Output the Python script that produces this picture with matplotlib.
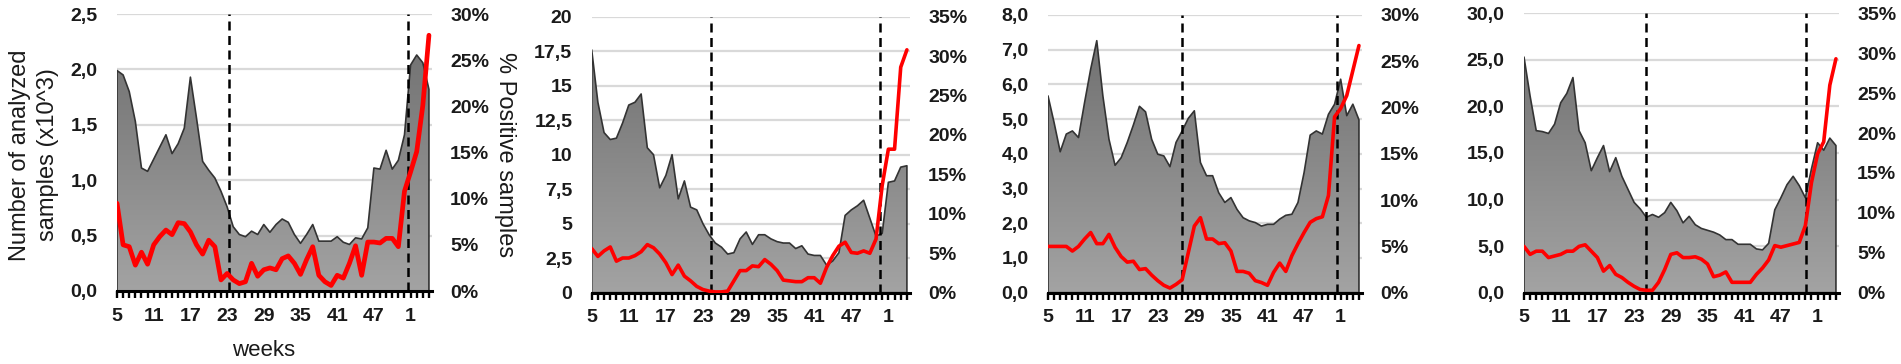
import numpy as np
import matplotlib
matplotlib.use("Agg")
import matplotlib.pyplot as plt
from matplotlib.colors import LinearSegmentedColormap
from matplotlib.ticker import FixedLocator, FixedFormatter

plt.rcParams['font.family'] = ['Liberation Sans', 'DejaVu Sans']

# ---------------- data ----------------
weeks = [5, 6, 7, 8, 9, 10, 11, 12, 13, 14, 15, 16, 17, 18, 19, 20, 21, 22, 23, 24,
         25, 26, 27, 28, 29, 30, 31, 32, 33, 34, 35, 36, 37, 38, 39, 40, 41, 42, 43, 44,
         45, 46, 47, 48, 49, 50, 51, 52, 1, 2, 3, 4]

# panel 1 : samples (x10^3) and % positive
samples_1 = [1.99, 1.95, 1.80, 1.53, 1.11, 1.08, 1.19, 1.30, 1.41, 1.24, 1.33, 1.47, 1.93, 1.56,
             1.17, 1.09, 1.02, 0.90, 0.76, 0.58, 0.51, 0.49, 0.54, 0.51, 0.60, 0.53, 0.60, 0.65,
             0.62, 0.51, 0.43, 0.51, 0.60, 0.45, 0.45, 0.45, 0.49, 0.44, 0.42, 0.48, 0.47, 0.57,
             1.11, 1.10, 1.27, 1.10, 1.18, 1.41, 2.04, 2.13, 2.06, 1.82]
positive_1 = [9.5, 5.0, 4.8, 2.8, 4.2, 2.9, 5.0, 5.9, 6.6, 6.1, 7.4, 7.3, 6.4, 5.0, 4.0, 5.5,
              4.8, 1.2, 1.9, 1.2, 0.8, 1.0, 3.0, 1.6, 2.3, 2.5, 2.3, 3.5, 3.8, 3.0, 1.8, 3.4,
              4.8, 1.7, 1.0, 0.6, 1.7, 1.4, 3.0, 4.9, 1.7, 5.3, 5.3, 5.2, 5.7, 5.7, 4.8, 10.8,
              12.9, 15.1, 20.1, 27.7]

# panel 2
samples_2 = [17.6, 13.8, 11.6, 11.1, 11.2, 12.3, 13.6, 13.8, 14.4, 10.5, 10.0, 7.6, 8.5, 10.0,
             6.8, 8.1, 6.2, 6.0, 5.0, 4.2, 3.6, 3.3, 2.8, 2.9, 3.9, 4.4, 3.5, 4.2, 4.2, 3.9,
             3.7, 3.6, 3.6, 3.2, 3.4, 2.8, 2.7, 2.7, 2.0, 2.3, 2.9, 5.6, 6.0, 6.3, 6.7, 5.4,
             4.1, 4.3, 8.0, 8.1, 9.1, 9.2]
positive_2 = [5.6, 4.6, 5.3, 5.8, 4.0, 4.4, 4.4, 4.7, 5.2, 6.1, 5.7, 4.9, 3.8, 2.3, 3.5, 2.1,
              1.5, 0.8, 0.4, 0.2, 0.1, 0.1, 0.2, 1.5, 2.8, 2.8, 3.4, 3.3, 4.2, 3.6, 2.8, 1.6,
              1.5, 1.4, 1.4, 1.9, 1.9, 1.2, 3.2, 4.7, 5.9, 6.4, 5.1, 5.0, 5.3, 5.0, 6.8, 13.6,
              18.2, 18.2, 28.6, 30.8]

# panel 3
samples_3 = [5.67, 4.90, 4.06, 4.57, 4.66, 4.47, 5.48, 6.44, 7.26, 5.67, 4.42, 3.67, 3.89, 4.33,
             4.83, 5.37, 5.21, 4.42, 3.99, 3.94, 3.63, 4.33, 4.66, 5.02, 5.24, 3.75, 3.37, 3.37,
             2.88, 2.60, 2.74, 2.40, 2.16, 2.07, 2.02, 1.92, 1.97, 1.97, 2.12, 2.23, 2.26, 2.60,
             3.46, 4.54, 4.66, 4.57, 5.14, 5.43, 6.15, 5.10, 5.43, 4.98]
positive_3 = [5.0, 5.0, 5.0, 5.0, 4.5, 5.0, 5.8, 6.5, 5.3, 5.3, 6.3, 4.9, 3.9, 3.3, 3.4, 2.5,
              2.6, 1.9, 1.3, 0.8, 0.5, 0.9, 1.4, 4.3, 7.2, 8.1, 5.8, 5.8, 5.3, 5.4, 4.5, 2.3,
              2.3, 2.1, 1.3, 1.1, 0.8, 2.2, 3.2, 2.3, 4.0, 5.3, 6.5, 7.6, 8.0, 8.2, 10.5, 19.0,
              19.9, 21.3, 24.0, 26.7]

# panel 4
samples_4 = [25.3, 21.1, 17.4, 17.3, 17.1, 18.1, 20.4, 21.4, 23.1, 17.4, 16.1, 13.1, 14.5, 15.8,
             13.0, 14.5, 12.5, 11.1, 9.7, 9.0, 8.1, 8.4, 8.1, 8.6, 9.7, 8.8, 7.5, 8.2, 7.3, 6.9,
             6.7, 6.5, 6.2, 5.7, 5.7, 5.2, 5.2, 5.2, 4.7, 4.6, 5.3, 8.9, 10.2, 11.6, 12.5, 11.5,
             10.2, 13.3, 16.1, 15.3, 16.6, 15.8]
positive_4 = [5.8, 4.8, 5.2, 5.2, 4.4, 4.6, 4.8, 5.2, 5.2, 5.8, 6.0, 5.2, 4.4, 2.7, 3.4, 2.3,
              1.9, 1.3, 0.8, 0.4, 0.3, 0.3, 1.3, 2.9, 4.8, 5.0, 4.4, 4.4, 4.5, 4.2, 3.6, 2.0,
              2.2, 2.6, 1.3, 1.3, 1.3, 1.3, 2.3, 3.1, 4.1, 5.9, 5.7, 5.9, 6.1, 6.3, 8.4, 13.8,
              17.4, 18.9, 26.0, 29.3]

# season start / end markers (in week-index units)
season_marks = [(18.3, 47.5), (19.35, 46.7), (22.0, 47.4), (19.95, 46.1)]

left_ticks = [[0, 0.5, 1.0, 1.5, 2.0, 2.5],
              [0, 2.5, 5, 7.5, 10, 12.5, 15, 17.5, 20],
              [0, 1, 2, 3, 4, 5, 6, 7, 8],
              [0, 5, 10, 15, 20, 25, 30]]
left_labels = [["0,0", "0,5", "1,0", "1,5", "2,0", "2,5"],
               ["0", "2,5", "5", "7,5", "10", "12,5", "15", "17,5", "20"],
               ["0,0", "1,0", "2,0", "3,0", "4,0", "5,0", "6,0", "7,0", "8,0"],
               ["0,0", "5,0", "10,0", "15,0", "20,0", "25,0", "30,0"]]
right_ticks = [[0, 5, 10, 15, 20, 25, 30],
               [0, 5, 10, 15, 20, 25, 30, 35],
               [0, 5, 10, 15, 20, 25, 30],
               [0, 5, 10, 15, 20, 25, 30, 35]]

samples = [samples_1, samples_2, samples_3, samples_4]
positives = [positive_1, positive_2, positive_3, positive_4]

# ---------------- layout (pixels) ----------------
W, H = 1901, 364
boxes = [(117, 432, 14, 291), (591.7, 910, 16.7, 292.7),
         (1048, 1362, 15, 292.7), (1524, 1839, 13.3, 292.7)]
red_lw = [3.4, 2.6, 2.6, 2.6]

fig = plt.figure(figsize=(W / 100, H / 100), dpi=100)
cmap = LinearSegmentedColormap.from_list("g", ["#a3a3a3", "#6c6c6c"])
XMAX = 51.5
x = np.arange(len(weeks))

for k in range(4):
    l, r, t, b = boxes[k]
    ax = fig.add_axes([l / W, 1 - b / H, (r - l) / W, (b - t) / H])
    ymax = left_ticks[k][-1]
    y = np.array(samples[k])
    ax.set_axisbelow(True)
    for v in left_ticks[k][1:]:
        ax.axhline(v, color="#d9d9d9", lw=1.6, zorder=0)
    poly = ax.fill_between(x, 0, y, facecolor="none", edgecolor="#333333", lw=1.2, zorder=3)
    grad = np.linspace(0, 1, 256).reshape(-1, 1)
    im = ax.imshow(grad, extent=[0, XMAX, 0, ymax], origin="lower", aspect="auto",
                   cmap=cmap, zorder=2, interpolation="bilinear")
    im.set_clip_path(poly.get_paths()[0], transform=ax.transData)
    for m in season_marks[k]:
        ax.axvline(m, ymin=0, ymax=1.0, color="black", lw=1.8, ls=(0, (3.6, 2.2)), zorder=4)
    ax.set_xlim(0, XMAX)
    ax.set_ylim(0, ymax)
    ax.yaxis.set_major_locator(FixedLocator(left_ticks[k]))
    ax.yaxis.set_major_formatter(FixedFormatter(left_labels[k]))
    ax.xaxis.set_major_locator(FixedLocator(list(x)))
    ax.xaxis.set_major_formatter(FixedFormatter(
        [str(w) if i % 6 == 0 else "" for i, w in enumerate(weeks)]))
    for s in ["top", "right", "left"]:
        ax.spines[s].set_visible(False)
    ax.spines["bottom"].set_linewidth(2.2)
    ax.spines["bottom"].set_zorder(5)
    ax.tick_params(axis="x", direction="out", length=5, width=1.7, pad=7,
                   labelsize=14)
    ax.tick_params(axis="y", length=0, pad=14, labelsize=14)
    for lab in ax.get_xticklabels() + ax.get_yticklabels():
        lab.set_fontweight("bold")
        lab.set_color("#1a1a1a")

    ax2 = ax.twinx()
    ax2.plot(x, positives[k], color="#ff0000", lw=red_lw[k], solid_joinstyle="round",
             solid_capstyle="round", zorder=5)
    ax2.set_ylim(0, right_ticks[k][-1])
    ax2.set_xlim(0, XMAX)
    ax2.yaxis.set_major_locator(FixedLocator(right_ticks[k]))
    ax2.yaxis.set_major_formatter(FixedFormatter([f"{v}%" for v in right_ticks[k]]))
    for s in ["top", "right", "left", "bottom"]:
        ax2.spines[s].set_visible(False)
    ax2.tick_params(axis="y", length=0, pad=13, labelsize=14)
    for lab in ax2.get_yticklabels():
        lab.set_fontweight("bold")
        lab.set_color("#1a1a1a")

fig.text(34 / W, 1 - 155 / H, "Number of analyzed\nsamples (x10^3)", rotation=90,
         ha="center", va="center", fontsize=17, linespacing=1.3, color="#1a1a1a")
fig.text(505 / W, 1 - 155 / H, "% Positive samples", rotation=270,
         ha="center", va="center", fontsize=17, color="#1a1a1a")
fig.text(264 / W, 1 - 350 / H, "weeks", ha="center", va="center", fontsize=16,
         color="#1a1a1a")

fig.savefig("out.png", dpi=100)
